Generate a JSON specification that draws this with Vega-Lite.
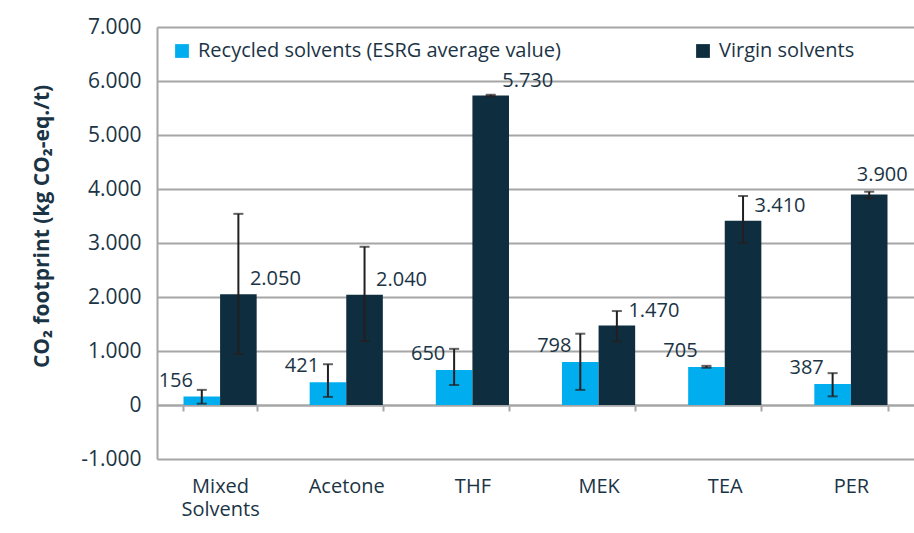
{
  "$schema": "https://vega.github.io/schema/vega-lite/v6.json",
  "autosize": {"type": "none"},
  "padding": {"left": 157, "top": 27, "right": 0, "bottom": 74},
  "width": 757,
  "height": 432,
  "background": "white",
  "data": {
    "values": [
      {"solvent": "Mixed Solvents", "type": "Recycled solvents (ESRG average value)", "value": 156, "low": 25, "high": 280},
      {"solvent": "Mixed Solvents", "type": "Virgin solvents", "value": 2050, "low": 944, "high": 3540},
      {"solvent": "Acetone", "type": "Recycled solvents (ESRG average value)", "value": 421, "low": 150, "high": 755},
      {"solvent": "Acetone", "type": "Virgin solvents", "value": 2040, "low": 1185, "high": 2930},
      {"solvent": "THF", "type": "Recycled solvents (ESRG average value)", "value": 650, "low": 370, "high": 1040},
      {"solvent": "THF", "type": "Virgin solvents", "value": 5730, "low": 5715, "high": 5745},
      {"solvent": "MEK", "type": "Recycled solvents (ESRG average value)", "value": 798, "low": 280, "high": 1320},
      {"solvent": "MEK", "type": "Virgin solvents", "value": 1470, "low": 1175, "high": 1740},
      {"solvent": "TEA", "type": "Recycled solvents (ESRG average value)", "value": 705, "low": 690, "high": 725},
      {"solvent": "TEA", "type": "Virgin solvents", "value": 3410, "low": 3000, "high": 3870},
      {"solvent": "PER", "type": "Recycled solvents (ESRG average value)", "value": 387, "low": 160, "high": 590},
      {"solvent": "PER", "type": "Virgin solvents", "value": 3900, "low": 3830, "high": 3950}
    ]
  },
  "encoding": {
    "x": {
      "field": "solvent", "type": "nominal",
      "sort": ["Mixed Solvents", "Acetone", "THF", "MEK", "TEA", "PER"],
      "scale": {"paddingInner": 0.42, "paddingOuter": 0.21},
      "axis": {
        "title": null,
        "orient": "bottom",
        "offset": -54,
        "labelAngle": 0,
        "domainColor": "#A6A6A6",
        "domainWidth": 2,
        "tickBand": "extent",
        "tickSize": 6,
        "tickColor": "#A6A6A6",
        "tickWidth": 2,
        "labelPadding": 65,
        "labelBaseline": "top",
        "labelFontSize": 20,
        "labelLineHeight": 23,
        "labelColor": "#1B3445",
        "labelFont": "Open Sans",
        "labelExpr": "datum.value == 'Mixed Solvents' ? ['Mixed', 'Solvents'] : datum.value"
      }
    },
    "xOffset": {
      "field": "type", "type": "nominal",
      "sort": ["Recycled solvents (ESRG average value)", "Virgin solvents"],
      "scale": {"paddingInner": 0, "paddingOuter": 0}
    }
  },
  "layer": [
    {
      "mark": {"type": "bar"},
      "encoding": {
        "y": {
          "field": "value", "type": "quantitative",
          "scale": {"domain": [-1000, 7000], "nice": false},
          "axis": {
            "title": "CO₂ footprint (kg CO₂-eq./t)",
            "values": [-1000, 0, 1000, 2000, 3000, 4000, 5000, 6000, 7000],
            "format": ",.0f",
            "grid": true,
            "gridColor": "#A6A6A6",
            "gridWidth": 2,
            "domainColor": "#A6A6A6",
            "domainWidth": 2,
            "ticks": false,
            "labelPadding": 16,
            "labelFontSize": 21,
            "labelColor": "#1B3445",
            "labelFont": "Open Sans",
            "titleFont": "Open Sans",
            "titleFontSize": 21,
            "titleFontWeight": "bold",
            "titleColor": "#1B3445",
            "titleX": -115,
            "titleY": 199,
            "titleAngle": -90,
            "titleAlign": "center",
            "titleBaseline": "middle"
          }
        },
        "color": {
          "field": "type", "type": "nominal",
          "scale": {
            "domain": ["Recycled solvents (ESRG average value)", "Virgin solvents"],
            "range": ["#00AEEF", "#0E2D3F"]
          },
          "legend": {
            "title": null,
            "orient": "none",
            "legendX": 15,
            "legendY": 14,
            "direction": "horizontal",
            "columns": 2,
            "columnPadding": 132,
            "padding": 0,
            "symbolType": "square",
            "symbolSize": 190,
            "symbolStrokeWidth": 0,
            "labelFontSize": 20,
            "labelFont": "Open Sans",
            "labelColor": "#1B3445",
            "labelOffset": 6,
            "labelLimit": 500
          }
        }
      }
    },
    {
      "mark": {"type": "rule", "color": "#231F20", "strokeWidth": 2},
      "encoding": {
        "y": {"field": "low", "type": "quantitative"},
        "y2": {"field": "high"}
      }
    },
    {
      "mark": {"type": "tick", "color": "#231F20", "thickness": 2, "size": 10},
      "encoding": {"y": {"field": "low", "type": "quantitative"}}
    },
    {
      "mark": {"type": "tick", "color": "#231F20", "thickness": 2, "size": 10},
      "encoding": {"y": {"field": "high", "type": "quantitative"}}
    },
    {
      "transform": [{"filter": "datum.type != 'Virgin solvents'"}],
      "mark": {"type": "text", "dx": -26, "dy": -16, "baseline": "middle", "align": "center", "fontSize": 20, "font": "Open Sans", "color": "#1B3445"},
      "encoding": {
        "y": {"field": "value", "type": "quantitative"},
        "text": {"field": "value", "type": "quantitative", "format": ",.0f"}
      }
    },
    {
      "transform": [{"filter": "datum.type == 'Virgin solvents' && datum.solvent != 'PER'"}],
      "mark": {"type": "text", "dx": 37, "dy": -15, "baseline": "middle", "align": "center", "fontSize": 20, "font": "Open Sans", "color": "#1B3445"},
      "encoding": {
        "y": {"field": "value", "type": "quantitative"},
        "text": {"field": "value", "type": "quantitative", "format": ",.0f"}
      }
    },
    {
      "transform": [{"filter": "datum.type == 'Virgin solvents' && datum.solvent == 'PER'"}],
      "mark": {"type": "text", "dx": 13, "dy": -19, "baseline": "middle", "align": "center", "fontSize": 20, "font": "Open Sans", "color": "#1B3445"},
      "encoding": {
        "y": {"field": "value", "type": "quantitative"},
        "text": {"field": "value", "type": "quantitative", "format": ",.0f"}
      }
    }
  ],
  "config": {
    "view": {"stroke": null},
    "locale": {
      "number": {"decimal": ",", "thousands": ".", "grouping": [3], "currency": ["", ""], "minus": "-"}
    }
  }
}
